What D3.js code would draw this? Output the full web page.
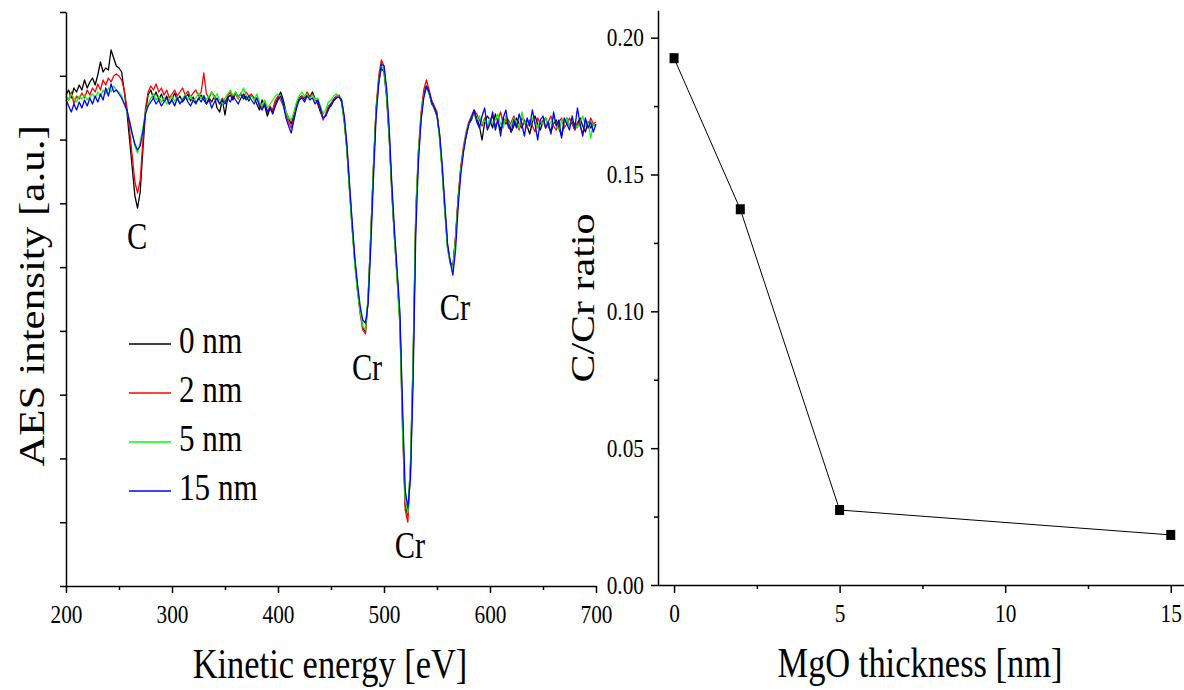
<!DOCTYPE html>
<html>
<head>
<meta charset="utf-8">
<script src="https://cdn.jsdelivr.net/npm/d3@7"></script>
<style>
body{margin:0;background:#fff;}
text{font-family:"Liberation Serif","Times New Roman",serif;fill:#000;}
</style>
</head>
<body>
<svg id="chart" width="1184" height="690"></svg>
<script>
// AES spectra, one value every 2.5 eV from 200 to 700 eV (arbitrary units)
const energyStart = 200, energyStep = 2.5;

const aes0nm = [
491,496,488,498,494,501,496,506,498,504,
508,501,511,524,514,518,516,536,528,520,
518,514,494,474,446,418,390,378,394,436,
474,491,496,488,494,486,492,485,490,482,
487,493,486,490,484,488,492,485,489,483,
487,491,486,482,488,484,490,478,474,486,
471,488,491,486,494,489,492,487,490,485,
491,488,482,476,486,480,470,478,474,482,
488,494,486,474,468,462,471,482,488,490,
486,492,489,494,487,482,474,468,470,478,
480,485,488,490,484,464,436,396,358,324,
298,276,258,254,288,351,418,476,504,518,
514,488,446,391,346,308,266,166,81,71,
121,226,371,431,468,491,500,494,482,478,
472,448,414,374,338,324,320,348,388,418,
436,450,462,466,474,468,460,446,464,470,
466,458,472,464,456,468,462,466,454,460,
468,462,458,466,460,452,464,470,462,456,
465,468,460,454,462,466,458,450,462,468,
460,465,456,462,468,460,454,464,458,462,
460];

const aes2nm = [
489,486,494,482,490,487,493,488,496,491,
498,494,502,496,506,501,508,504,510,512,
510,506,496,478,456,430,404,393,406,444,
478,494,500,496,502,494,498,491,496,488,
492,496,490,494,498,491,495,489,493,496,
490,494,513,492,488,494,490,486,482,488,
484,490,494,488,492,487,493,489,494,490,
492,486,488,482,478,484,474,480,476,486,
490,486,480,471,464,458,468,480,486,490,
488,494,490,492,486,484,476,466,472,480,
482,487,490,491,486,468,438,398,360,324,
296,272,256,252,286,348,416,478,510,526,
520,492,450,394,348,306,262,158,76,64,
116,224,374,436,474,496,506,496,486,480,
474,450,416,376,340,324,318,350,390,420,
440,454,464,470,476,472,466,460,468,458,
464,470,460,466,474,462,468,458,464,470,
462,456,468,464,458,466,460,454,468,462,
466,458,464,470,460,456,464,468,458,462,
468,462,456,464,460,452,466,460,468,462,
464];

const aes5nm = [
490,486,492,488,484,490,487,491,486,489,
492,488,494,490,496,492,498,494,500,496,
494,490,482,474,466,452,440,433,444,458,
474,482,488,492,486,490,484,488,482,486,
490,485,489,483,487,492,486,490,484,488,
493,487,491,486,490,494,488,492,486,482,
488,492,496,490,494,488,492,498,491,487,
490,486,492,484,480,486,478,482,486,490,
492,488,482,474,468,466,474,484,490,494,
490,492,487,491,486,488,480,472,476,484,
486,490,492,489,486,466,436,394,356,320,
294,274,260,256,288,350,418,474,506,520,
516,490,448,392,346,304,260,156,86,73,
124,230,376,434,470,490,498,492,484,476,
470,446,412,372,336,322,318,346,386,416,
436,452,462,468,472,466,470,462,466,460,
468,462,466,472,462,458,470,464,460,468,
464,458,474,462,466,460,468,464,458,466,
462,468,460,464,470,462,456,466,462,468,
460,466,462,458,464,470,460,464,448,462,
460];

const aes15nm = [
486,480,474,482,476,484,478,486,480,488,
482,490,484,492,486,498,490,502,494,496,
492,488,482,476,464,452,442,436,440,454,
472,480,484,488,482,486,480,484,488,482,
486,480,488,482,486,490,484,480,486,482,
488,484,490,482,486,478,484,488,482,486,
482,488,484,490,486,482,488,492,486,490,
486,482,488,480,476,482,474,478,472,480,
486,490,482,468,460,453,466,478,486,488,
484,490,486,488,482,486,478,468,470,476,
482,486,488,489,486,470,442,402,364,328,
302,280,266,263,282,338,406,468,502,522,
520,498,456,400,354,314,274,180,96,78,
108,206,354,424,466,488,500,494,484,478,
470,452,420,380,342,324,311,336,380,412,
434,450,462,468,476,464,458,470,478,456,
462,474,456,466,450,468,476,460,454,466,
458,472,462,450,468,460,476,462,446,466,
470,458,464,452,474,460,466,448,468,462,
456,470,458,478,462,450,468,458,464,454,
462];

const seriesNames = ["0 nm", "2 nm", "5 nm", "15 nm"];
const seriesColors = ["#000000", "#ff0000", "#00ff00", "#0000ff"];
const spectra = [aes0nm, aes2nm, aes5nm, aes15nm];

// peak annotations (energy, intensity where the label sits)
const peakNames = ["C", "Cr", "Cr", "Cr"];
const peakEnergy = [267, 484, 524.5, 567];
const peakLevel = [337, 206, 28, 266];

// right panel: C/Cr ratio vs MgO thickness
const thickness = [0, 2, 5, 15];
const ratio = [0.1925, 0.1373, 0.0274, 0.0183];

const xTicksLeft = [200, 300, 400, 500, 600, 700];
const xMinorLeft = [250, 350, 450, 550, 650];
const xTicksRight = [0, 5, 10, 15];
const xMinorRight = [2.5, 7.5, 12.5];
const yTicksRight = [0, 0.05, 0.10, 0.15, 0.20];
const yMinorRight = [0.025, 0.075, 0.125, 0.175];

const SQ = 0.82; // text in the figure is horizontally squeezed
const svg = d3.select("#chart");

//----- left panel: spectra
const xL = d3.scaleLinear().domain([200, 700]).range([66, 596]);
const yL = d3.scaleLinear().domain([0, 574]).range([586, 12]);

const energy = aes0nm.map((d, i) => energyStart + i * energyStep);

const line = d3.line()
    .x((d, i) => xL(energy[i]))
    .y(d => yL(d));

spectra.forEach((s, k) => {
    svg.append("path")
        .datum(s)
        .attr("d", line)
        .attr("fill", "none")
        .attr("stroke", seriesColors[k])
        .attr("stroke-width", 1.3)
        .attr("stroke-linejoin", "round");
});

// left y axis, ticks only
svg.append("g")
    .attr("transform", "translate(66,0)")
    .call(d3.axisLeft(yL).tickValues(d3.range(10).map(i => i * 574 / 9)).tickSize(6).tickSizeOuter(0).tickFormat(""));

// left x axis
let gxL = svg.append("g")
    .attr("transform", "translate(0,586)")
    .call(d3.axisBottom(xL).tickValues(xTicksLeft).tickSize(7).tickSizeOuter(0).tickFormat(d3.format("d")));
gxL.selectAll("text").attr("y", 37).attr("dy", null).attr("font-size", 26).attr("transform", `scale(${SQ},1)`);
svg.append("g")
    .attr("transform", "translate(0,586)")
    .call(d3.axisBottom(xL).tickValues(xMinorLeft).tickSize(4).tickFormat(""))
    .select(".domain").remove();

// annotations
peakNames.forEach((t, i) => {
    svg.append("text")
        .attr("transform", `translate(${xL(peakEnergy[i])},${yL(peakLevel[i])}) scale(${SQ},1)`)
        .attr("text-anchor", "middle")
        .attr("font-size", 37)
        .text(t);
});

// legend
seriesNames.forEach((name, i) => {
    let ly = 344 + i * 49;
    svg.append("line")
        .attr("x1", 129).attr("x2", 171)
        .attr("y1", ly).attr("y2", ly)
        .attr("stroke", seriesColors[i])
        .attr("stroke-width", 1.3);
    svg.append("text")
        .attr("transform", `translate(179,${ly + 9}) scale(${SQ},1)`)
        .attr("font-size", 38)
        .text(name);
});

// axis titles
svg.append("text")
    .attr("transform", `translate(330,678) scale(${SQ},1)`)
    .attr("text-anchor", "middle")
    .attr("font-size", 42)
    .text("Kinetic energy [eV]");
svg.append("text")
    .attr("transform", `translate(44,296) scale(${SQ},1) rotate(-90)`)
    .attr("text-anchor", "middle")
    .attr("font-size", 43)
    .text("AES intensity [a.u.]");

//----- right panel: ratio
const xR = d3.scaleLinear().domain([-0.5, 15.4]).range([657.5, 1184]);
const yR = d3.scaleLinear().domain([0, 0.21]).range([585, 10.3]);

svg.append("path")
    .datum(thickness)
    .attr("d", d3.line().x(d => xR(d)).y((d, i) => yR(ratio[i])))
    .attr("fill", "none")
    .attr("stroke", "#000")
    .attr("stroke-width", 1);

svg.selectAll(".pt")
    .data(thickness)
    .enter().append("rect")
    .attr("class", "pt")
    .attr("x", d => xR(d) - 4.5)
    .attr("y", (d, i) => yR(ratio[i]) - 5)
    .attr("width", 9)
    .attr("height", 10)
    .attr("fill", "#000");

let gyR = svg.append("g")
    .attr("transform", "translate(658,0)")
    .call(d3.axisLeft(yR).tickValues(yTicksRight).tickSize(7).tickSizeOuter(0).tickFormat(d3.format(".2f")));
gyR.selectAll("text").attr("x", -14 / SQ).attr("font-size", 26).attr("transform", `scale(${SQ},1)`);
svg.append("g")
    .attr("transform", "translate(658,0)")
    .call(d3.axisLeft(yR).tickValues(yMinorRight).tickSize(4).tickFormat(""))
    .select(".domain").remove();

let gxR = svg.append("g")
    .attr("transform", "translate(0,585)")
    .call(d3.axisBottom(xR).tickValues(xTicksRight).tickSize(8).tickSizeOuter(0).tickFormat(d3.format("d")));
gxR.selectAll("text").attr("y", 37).attr("dy", null).attr("font-size", 26).attr("transform", `scale(${SQ},1)`);
svg.append("g")
    .attr("transform", "translate(0,585)")
    .call(d3.axisBottom(xR).tickValues(xMinorRight).tickSize(4).tickFormat(""))
    .select(".domain").remove();

svg.append("text")
    .attr("transform", `translate(920,677) scale(${SQ},1)`)
    .attr("text-anchor", "middle")
    .attr("font-size", 42)
    .text("MgO thickness [nm]");
svg.append("text")
    .attr("transform", `translate(594,298) scale(${SQ},1) rotate(-90)`)
    .attr("text-anchor", "middle")
    .attr("font-size", 42)
    .text("C/Cr ratio");

// all axis strokes
svg.selectAll(".domain, .tick line").attr("stroke", "#000").attr("stroke-width", 1.5);
</script>
</body>
</html>
